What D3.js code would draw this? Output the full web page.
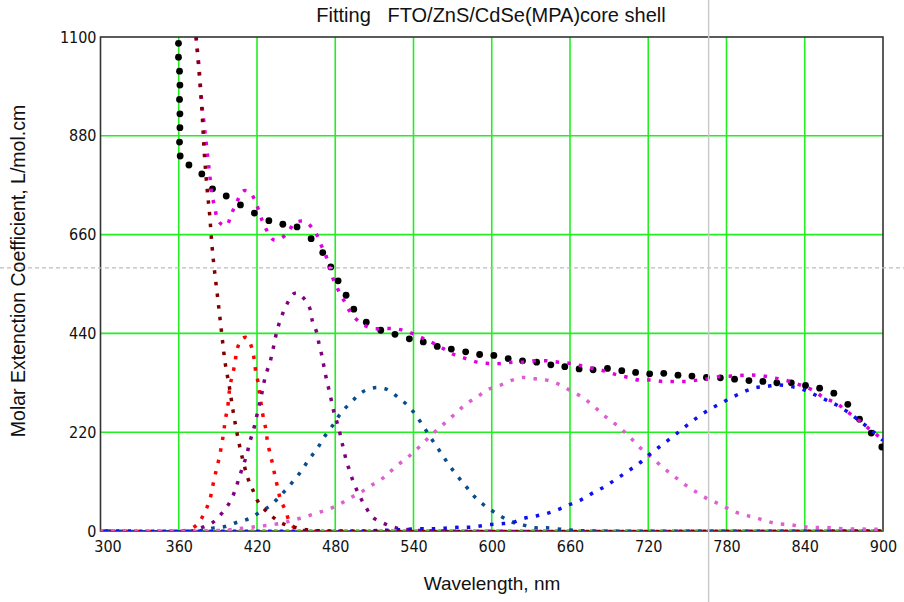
<!DOCTYPE html>
<html>
<head>
<meta charset="utf-8">
<script src="https://cdn.jsdelivr.net/npm/d3@7"></script>
<style>
  body { margin: 0; background: #fff; }
  svg { display: block; }
  .tick text { font-family: 'DejaVu Sans Condensed', 'Liberation Sans', sans-serif; font-size: 16px; fill: #111; }
</style>
</head>
<body>
<div id="chart"></div>
<script>
// axis ticks
var xTicks = [300, 360, 420, 480, 540, 600, 660, 720, 780, 840, 900];
var yTicks = [0, 220, 440, 660, 880, 1100];

// measured spectrum [wavelength nm, coefficient]
var measured = [
  [359.8,1086],[359.8,1055],[360.6,1024],[360.9,993],[360.6,961],[360.9,929],[360.9,898],[360.6,866],[361.1,835],
  [367.8,815],[377.7,795],[385.9,762],[396.4,746],[407.3,726],[418.0,708],[429.1,691],[439.8,683],[450.7,677],
  [461.5,651],[470.4,620],[476.6,588],[482.2,557],[488.3,525],[494.2,494],[503.8,465],[514.9,447],[525.8,438],
  [536.8,428],[547.5,421],[558.2,411],[569.0,405],[580.0,399],[590.7,393],[601.6,391],[612.6,384],[623.6,379],
  [634.4,376],[645.3,370],[656.0,366],[667.0,361],[677.7,359],[688.7,362],[699.7,357],[710.3,353],[721.1,350],
  [731.9,351],[742.8,347],[753.5,345],[764.6,342],[775.3,341],[786.2,338],[797.2,335],[807.9,333],[818.6,330],
  [829.7,330],[840.6,324],[851.4,318],[862.3,307],[873.0,282],[882.0,249],[891.0,218],[899.1,187]
];

// fitted sum
var fitSum = [
  [373.3,1100],[375.7,1029],[377.7,952],[379.7,900],[381.6,849],[383.6,797],[385.6,746],[387.7,720],[389.7,694],
  [392.8,683],[396.6,680],[400.4,706],[404.3,731],[409.4,757],[413.0,757],[416.3,748],[420.3,722],[423.2,697],
  [427.2,671],[432.9,648],[437.0,650],[442.1,660],[449.0,686],[453.0,690],[457.6,688],[464.8,665],[468.6,640],
  [472.7,614],[475.5,589],[478.3,562],[482.4,536],[487.3,510],[492.1,485],[500.0,462],[509.0,451],[517.6,451],
  [526.6,450],[535.5,444],[544.4,433],[553.4,421],[562.3,407],[571.0,393],[580.0,384],[588.9,376],[597.8,373],
  [606.8,373],[615.7,376],[624.4,376],[633.3,379],[642.2,379],[651.2,376],[660.1,373],[668.8,368],[677.7,362],
  [686.7,356],[695.6,348],[704.5,342],[713.0,336],[722.1,336],[731.1,333],[739.8,333],[748.7,333],[757.7,336],
  [766.6,339],[775.3,344],[784.5,345],[793.2,347],[802.1,347],[810.8,344],[819.7,339],[828.6,333],[837.6,324],
  [846.5,313],[855.2,296],[864.1,285],[873.0,265],[882.0,245],[890.4,225],[899.1,205],[900,203]
];

// fitted components
var bandEdge = [
  [373.3,1100],[375.7,1018],[377.7,940],[379.7,837],[381.8,760],[383.6,708],[385.6,631],[387.4,580],[389.5,528],
  [391.5,477],[393.5,425],[395.6,374],[398.7,323],[401.5,270],[404.6,219],[408.4,167],[413.2,116],[417.0,90],
  [421.1,64],[429.1,39],[438.0,19],[446.7,10],[460,2],[480,0],[900,0]
];
var peak410 = [
  [300,0],[360,0],[367.5,3],[374.7,16],[379.7,41],[383.6,67],[385.6,93],[387.4,119],[389.5,144],[391.5,170],
  [394.6,222],[395.6,247],[397.4,273],[399.4,325],[401.5,351],[403.3,377],[404.5,402],[408.4,428],[412.2,431],
  [416.3,405],[418.0,379],[419.1,354],[421.1,327],[422.2,302],[425.0,250],[427.0,224],[428.0,199],[430.0,173],
  [432.1,147],[433.9,121],[435.9,96],[438.0,70],[442.1,44],[445,20],[450,5],[460,0],[900,0]
];
var peak450 = [
  [300,0],[370,0],[377,7],[385.6,18],[393.5,41],[399.7,67],[403.5,93],[406.3,119],[409.2,144],[412.2,170],
  [414.2,196],[417.0,222],[419.1,247],[421.1,273],[423.2,299],[424.9,325],[427.0,350],[430.0,376],[432.1,402],
  [433.9,428],[436.0,453],[439.0,479],[442.9,505],[447.9,528],[451.0,530],[455.6,519],[460.7,494],[462.5,467],
  [465.8,442],[467.6,416],[469.7,391],[471.4,365],[473.2,339],[475.3,313],[477.3,287],[479.3,261],[482.0,236],
  [484.2,210],[486.2,184],[488.3,159],[491.1,133],[494.2,107],[498.0,82],[502.8,56],[509.0,30],[518.0,16],
  [526.6,7],[540,2],[560,0],[900,0]
];
var peak510 = [
  [300,0],[375,0],[387,7],[395.6,10],[404.3,19],[413.4,27],[422.2,42],[430.8,58],[439.0,82],[446.7,107],
  [453.8,133],[459.7,159],[466.3,184],[471.7,210],[478.3,236],[484.2,262],[492.3,287],[501.1,310],[510.0,319],
  [519.0,316],[527.6,299],[536.8,276],[543.7,250],[549.6,224],[555.2,199],[561.3,173],[567.2,147],[574.1,121],
  [581.2,96],[588.9,70],[597.8,50],[606.8,33],[615.7,20],[624.4,13],[633.3,7],[642.2,7],[660,2],[680,0],[900,0]
];
var peak625 = [
  [300,0],[380,0],[400,3],[411.1,7],[420.1,10],[429.1,13],[440,18],[447,24],[455.6,30],[464.5,39],[473.5,47],
  [482.2,58],[491.1,73],[500.0,87],[509.0,104],[518.0,121],[526.6,144],[535.5,164],[544.4,187],[553.4,213],
  [562.3,236],[571.2,259],[580.0,282],[588.9,299],[597.8,316],[606.8,325],[615.7,336],[624.6,342],[633.3,339],
  [642.2,336],[651.2,327],[660.1,313],[668.8,299],[677.7,279],[686.7,256],[695.6,236],[704.5,213],[713.2,187],
  [722.1,165],[731.1,142],[739.8,122],[748.7,102],[757.7,85],[766.6,70],[775.3,59],[784.5,45],[793.2,36],
  [802.1,30],[810.8,22],[819.7,16],[828.6,14],[837.6,10],[846.5,8],[855.2,8],[870,5],[900,4]
];
var peak815 = [
  [300,0],[500,0],[530,3],[544.4,5],[553.4,5],[562,6],[571.2,8],[580.2,8],[588.9,10],[597.8,14],[606.8,16],
  [615.7,19],[624.4,28],[633.3,33],[642.2,39],[651.2,48],[659.9,59],[668.8,70],[677.7,85],[686.7,99],[695.6,116],
  [704.3,133],[713.2,151],[722.1,173],[731.1,193],[740.1,213],[748.7,233],[757.7,253],[766.6,270],[775.5,284],
  [784.5,298],[793.4,310],[802.1,319],[811.0,322],[819.9,325],[828.6,322],[837.6,316],[846.5,305],[855.4,293],
  [864.1,281],[873.0,265],[882.0,245],[891.0,225],[899.1,204],[900,202]
];
var flatComp = [[300,0],[900,0]];

// cursor position
var cursorWl = 766.3, cursorVal = 586;

var W = 904, H = 602;
var svg = d3.select("#chart").append("svg").attr("width", W).attr("height", H);

var x = d3.scaleLinear().domain([300, 900]).range([100.5, 883]);
var y = d3.scaleLinear().domain([0, 1100]).range([531, 37]);

svg.append("clipPath").attr("id", "plot")
  .append("rect").attr("x", 100.5).attr("y", 37).attr("width", 782.5).attr("height", 494);

// grid
svg.append("g").selectAll("line").data(xTicks.slice(1, -1)).join("line")
  .attr("x1", d => x(d)).attr("x2", d => x(d)).attr("y1", y(0)).attr("y2", y(1100))
  .attr("stroke", "#22ee22").attr("stroke-width", 1.6);
svg.append("g").selectAll("line").data(yTicks.slice(1, -1)).join("line")
  .attr("x1", x(300)).attr("x2", x(900)).attr("y1", d => y(d)).attr("y2", d => y(d))
  .attr("stroke", "#22ee22").attr("stroke-width", 1.6);

// frame
svg.append("rect").attr("x", x(300)).attr("y", y(1100))
  .attr("width", x(900) - x(300)).attr("height", y(0) - y(1100))
  .attr("fill", "none").attr("stroke", "#333").attr("stroke-width", 1.6);

// axes
svg.append("g").attr("transform", "translate(0," + y(0) + ")")
  .call(d3.axisBottom(x).tickValues(xTicks).tickSize(0).tickPadding(10).tickFormat(d3.format("d")))
  .call(g => g.select(".domain").remove())
  .call(g => g.select(".tick text").attr("dx", 7)); // first label sits a bit right, like the original
svg.append("g").attr("transform", "translate(" + x(300) + ",0)")
  .call(d3.axisLeft(y).tickValues(yTicks).tickSize(0).tickPadding(4).tickFormat(d3.format("d")))
  .call(g => g.select(".domain").remove());

// dotted curves
var line = d3.line().x(d => x(d[0])).y(d => y(d[1])).curve(d3.curveCatmullRom.alpha(0.5));
var plot = svg.append("g").attr("clip-path", "url(#plot)");

function dotted(data, color, offset) {
  plot.append("path").datum(data)
    .attr("fill", "none").attr("stroke", color).attr("stroke-width", 3.5)
    .attr("stroke-dasharray", "3.5,8.2").attr("stroke-dashoffset", offset)
    .attr("d", line);
}

// measured points
plot.append("g").selectAll("circle").data(measured).join("circle")
  .attr("cx", d => x(d[0])).attr("cy", d => y(d[1])).attr("r", 3.4).attr("fill", "#000");

dotted(fitSum, "#e000e0", 0);
dotted(flatComp, "#62ad30", 2);
dotted(peak410, "#ff0000", 0);
dotted(peak450, "#800080", 4);
dotted(peak510, "#0a4c8c", 6);
dotted(peak625, "#dd5fd0", 1);
dotted(peak815, "#1010ee", 8);
dotted(bandEdge, "#800000", 0);

// cursor lines
svg.append("line").attr("x1", 0).attr("x2", W).attr("y1", y(cursorVal)).attr("y2", y(cursorVal))
  .attr("stroke", "#bdbdbd").attr("stroke-width", 1.2).attr("stroke-dasharray", "4,3");
svg.append("line").attr("x1", x(cursorWl)).attr("x2", x(cursorWl)).attr("y1", 0).attr("y2", H)
  .attr("stroke", "#c8c8c8").attr("stroke-width", 1.4);

// texts
svg.append("text").attr("x", 491).attr("y", 22).attr("text-anchor", "middle")
  .attr("font-family", "'Liberation Sans', Arial, sans-serif").attr("font-size", 20).attr("fill", "#111")
  .style("white-space", "pre")
  .text("Fitting   FTO/ZnS/CdSe(MPA)core shell");
svg.append("text").attr("x", 492).attr("y", 590).attr("text-anchor", "middle")
  .attr("font-family", "'Liberation Sans', Arial, sans-serif").attr("font-size", 19).attr("fill", "#111")
  .text("Wavelength, nm");
svg.append("text").attr("transform", "translate(25,271) rotate(-90)").attr("text-anchor", "middle")
  .attr("font-family", "'Liberation Sans', Arial, sans-serif").attr("font-size", 19.5).attr("fill", "#111")
  .text("Molar Extenction Coefficient, L/mol.cm");
</script>
</body>
</html>
